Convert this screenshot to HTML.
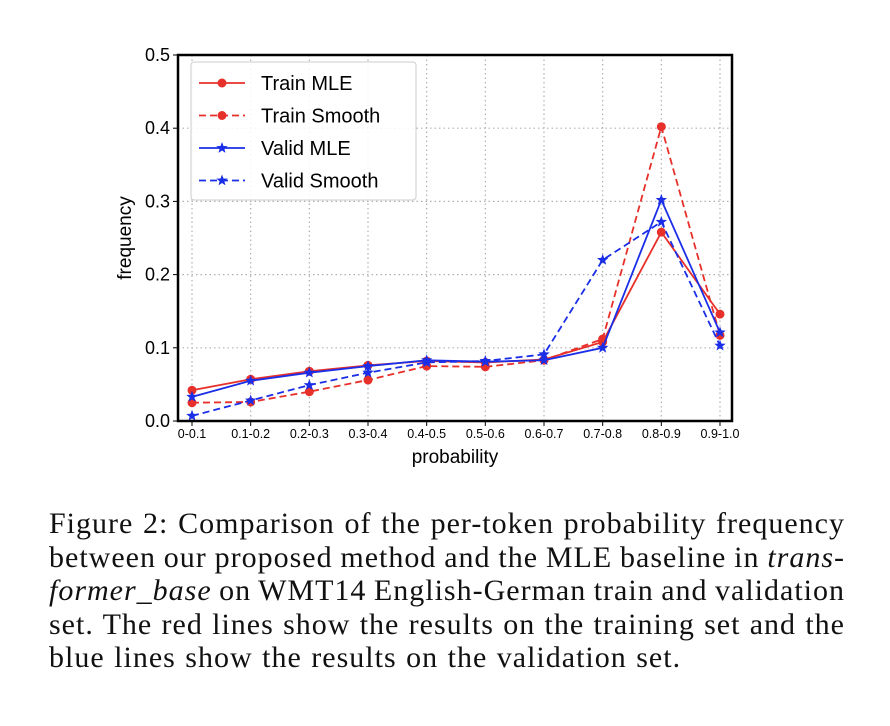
<!DOCTYPE html>
<html><head><meta charset="utf-8"><style>
body{margin:0;background:#fff;width:890px;height:726px;overflow:hidden}
.cap{position:absolute;left:49px;top:507px;width:796px;font-family:"Liberation Serif",serif;font-size:30px;line-height:33.5px;color:#111;letter-spacing:1px;word-spacing:-2px}
.cap div{text-align:justify;text-align-last:justify;white-space:nowrap}
.cap div.last{text-align-last:left;word-spacing:1px}
</style></head><body>
<svg id="chart" width="890" height="500" style="position:absolute;left:0;top:0" font-family="Liberation Sans, sans-serif"></svg>
<div class="cap">
<div>Figure 2: Comparison of the per-token probability frequency</div>
<div>between our proposed method and the MLE baseline in <i>trans-</i></div>
<div><i>former_base</i> on WMT14 English-German train and validation</div>
<div>set. The red lines show the results on the training set and the</div>
<div class="last">blue lines show the results on the validation set.</div>
</div>
<script>
const categories=["0-0.1","0.1-0.2","0.2-0.3","0.3-0.4","0.4-0.5","0.5-0.6","0.6-0.7","0.7-0.8","0.8-0.9","0.9-1.0"];
const trainMLE=[0.042,0.057,0.068,0.076,0.082,0.080,0.084,0.108,0.258,0.146];
const trainSmooth=[0.025,0.026,0.040,0.056,0.075,0.074,0.083,0.112,0.402,0.117];
const validMLE=[0.033,0.055,0.066,0.075,0.083,0.081,0.083,0.100,0.302,0.121];
const validSmooth=[0.007,0.028,0.049,0.066,0.080,0.082,0.091,0.220,0.272,0.103];
const yTicks=[0,0.1,0.2,0.3,0.4,0.5];
const yTickLabels=["0.0","0.1","0.2","0.3","0.4","0.5"];
const seriesNames=["Train MLE","Train Smooth","Valid MLE","Valid Smooth"];

const svg=document.getElementById('chart');const NS='http://www.w3.org/2000/svg';
const L=178,R=732,T=55,B=421;
const x=i=>192+i*(720-192)/(categories.length-1);
const y=v=>B-(v/0.5)*(B-T);
function mk(t,a,name){const e=document.createElementNS(NS,t);for(const k in a)e.setAttribute(k,a[k]);


svg.appendChild(e);return e;}
categories.forEach((c,i)=>{mk('line',{x1:x(i),x2:x(i),y1:T,y2:B,stroke:'#b0b0b0','stroke-dasharray':'1.5,3','stroke-width':1.2},'x-grid-line');
mk('line',{x1:x(i),x2:x(i),y1:B,y2:B+5,stroke:'#000'},'x-tick');
const t=mk('text',{x:x(i),y:B+17,'text-anchor':'middle','font-size':12.5},'x-tick-label');t.textContent=c;});
yTicks.forEach((v,i)=>{if(i>0&&i<yTicks.length-1)mk('line',{x1:L,x2:R,y1:y(v),y2:y(v),stroke:'#b0b0b0','stroke-dasharray':'1.5,3','stroke-width':1.2},'y-grid-line');
mk('line',{x1:L-5,x2:L,y1:y(v),y2:y(v),stroke:'#000'},'y-tick');
const t=mk('text',{x:L-8,y:y(v)+6,'text-anchor':'end','font-size':18},'y-tick-label');t.textContent=yTickLabels[i];});
function star(cx,cy,r){let p=[];for(let k=0;k<10;k++){const a=-Math.PI/2+k*Math.PI/5,rr=k%2?r*0.42:r;p.push((cx+rr*Math.cos(a)).toFixed(1)+','+(cy+rr*Math.sin(a)).toFixed(1));}return p.join(' ');}
const specs=[[trainMLE,'#e8302a','','circle'],[trainSmooth,'#e8302a','7,4','circle'],[validMLE,'#1a2ee8','','star'],[validSmooth,'#1a2ee8','7,4','star']];
specs.forEach(([d,col,dash,m],si)=>{
mk('polyline',{points:d.map((v,i)=>x(i)+','+y(v)).join(' '),fill:'none',stroke:col,'stroke-width':1.8,'stroke-dasharray':dash},'series-line-'+si);
d.forEach((v,i)=>{if(m==='circle')mk('circle',{cx:x(i),cy:y(v),r:4.5,fill:col},'series-point');
else mk('polygon',{points:star(x(i),y(v),6),fill:col},'series-point');});});
mk('rect',{x:L,y:T,width:R-L,height:B-T,fill:'none',stroke:'#000','stroke-width':2.5},'plot-frame');
mk('rect',{x:191,y:62,width:225,height:138,fill:'#fff','fill-opacity':0.85,stroke:'#ccc',rx:3},'legend-box');
seriesNames.forEach((n,i)=>{const yy=83+i*32.5,[d,col,dash,m]=specs[i];
mk('line',{x1:199,x2:245,y1:yy,y2:yy,stroke:col,'stroke-width':1.8,'stroke-dasharray':dash},'legend-line');
if(m==='circle')mk('circle',{cx:222,cy:yy,r:4.5,fill:col},'legend-marker');else mk('polygon',{points:star(222,yy,6),fill:col},'legend-marker');
const t=mk('text',{x:261,y:yy+7,'font-size':20},'legend-entry');t.textContent=n;});
let t=mk('text',{x:455,y:463,'text-anchor':'middle','font-size':19},'x-axis-title');t.textContent='probability';
t=mk('text',{x:0,y:0,'text-anchor':'middle','font-size':19,transform:'translate(131,238) rotate(-90)'},'y-axis-title');t.textContent='frequency';
</script>
</body></html>
